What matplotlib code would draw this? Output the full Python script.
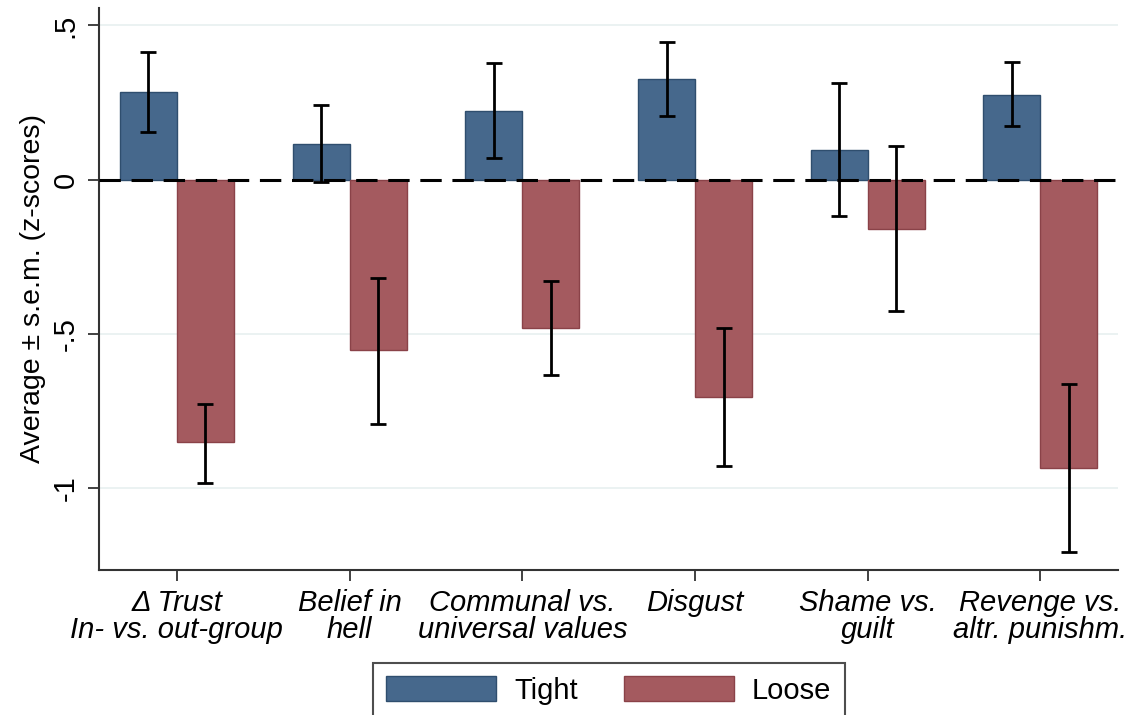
import numpy as np
import matplotlib.pyplot as plt

plt.rcParams['font.family'] = ['Liberation Sans', 'DejaVu Sans']

# categories and values (z-scores)
categories = ['Δ Trust\nIn- vs. out-group', 'Belief in\nhell', 'Communal vs.\nuniversal values',
              'Disgust', 'Shame vs.\nguilt', 'Revenge vs.\naltr. punishm.']
tight_mean = [0.285, 0.117, 0.223, 0.327, 0.097, 0.275]
tight_lo = [0.155, -0.006, 0.071, 0.207, -0.117, 0.175]
tight_hi = [0.414, 0.243, 0.379, 0.447, 0.314, 0.381]
loose_mean = [-0.851, -0.553, -0.479, -0.705, -0.159, -0.935]
loose_lo = [-0.984, -0.790, -0.634, -0.929, -0.424, -1.205]
loose_hi = [-0.728, -0.317, -0.327, -0.479, 0.110, -0.663]
yticks = [0.5, 0, -0.5, -1]
ytick_labels = ['.5', '0', '-.5', '-1']

tight_col = '#46688c'
loose_col = '#a45a5f'

x = np.arange(len(categories))
w = 0.33

fig = plt.figure(figsize=(11.38, 7.15), dpi=100)
ax = fig.add_axes([0.087, 0.203, 0.895, 0.786])

t_err = [np.array(tight_mean) - np.array(tight_lo), np.array(tight_hi) - np.array(tight_mean)]
l_err = [np.array(loose_mean) - np.array(loose_lo), np.array(loose_hi) - np.array(loose_mean)]

ax.bar(x - w / 2, tight_mean, w, color=tight_col, edgecolor='#2f4e6e', linewidth=1, label='Tight', zorder=2)
ax.bar(x + w / 2, loose_mean, w, color=loose_col, edgecolor='#8a4248', linewidth=1, label='Loose', zorder=2)
ax.errorbar(x - w / 2, tight_mean, yerr=t_err, fmt='none', ecolor='black', elinewidth=2,
            capsize=6, capthick=2, zorder=4)
ax.errorbar(x + w / 2, loose_mean, yerr=l_err, fmt='none', ecolor='black', elinewidth=2,
            capsize=6, capthick=2, zorder=4)

# dashed reference line at zero, faint gridlines elsewhere
ax.axhline(0, color='black', linestyle=(0, (7, 3.5)), linewidth=2.2, zorder=3)
for yv in [0.5, -0.5, -1]:
    ax.axhline(yv, color='#e8f0f0', linewidth=1.2, zorder=0)

ax.set_xlim(-0.451, 5.446)
ax.set_ylim(-1.264, 0.557)

ax.set_yticks(yticks)
ax.set_yticklabels(ytick_labels, rotation=90, va='center', fontsize=21)
ax.set_xticks(x)
ax.set_xticklabels(categories, fontsize=21, style='italic', linespacing=0.95)
ax.tick_params(axis='both', length=8, width=1.3, color='#333333', pad=6)
ax.set_ylabel('Average ± s.e.m. (z-scores)', fontsize=20.5, labelpad=4)

for s in ['top', 'right']:
    ax.spines[s].set_visible(False)
for s in ['left', 'bottom']:
    ax.spines[s].set_linewidth(1.5)
    ax.spines[s].set_color('#333333')

leg = fig.legend(loc='upper center', bbox_to_anchor=(0.535, 0.0727), ncol=2, fontsize=21,
                 frameon=True, fancybox=False, edgecolor='#222222', handlelength=3.77,
                 handleheight=0.93, columnspacing=1.58, handletextpad=0.62, borderpad=0.45,
                 borderaxespad=0)
leg.get_frame().set_linewidth(1.5)

plt.savefig('out.png', dpi=100)
